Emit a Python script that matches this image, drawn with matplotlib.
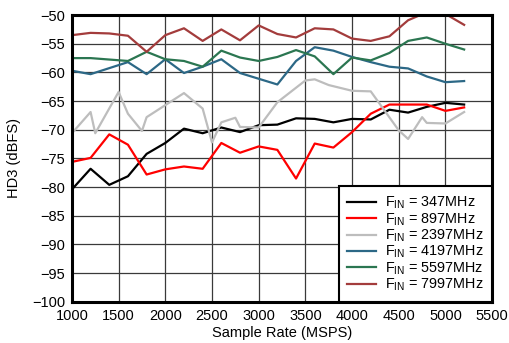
import numpy as np
import matplotlib
matplotlib.use('Agg')
import matplotlib.pyplot as plt

plt.rcParams['font.family'] = ['Liberation Sans', 'DejaVu Sans']
plt.rcParams['mathtext.fontset'] = 'custom'
plt.rcParams['mathtext.rm'] = 'Liberation Sans'
plt.rcParams['mathtext.it'] = 'Liberation Sans'
plt.rcParams['font.size'] = 10.5

# sample rate (MSPS) and HD3 (dBFS)
rate_347 = [1000, 1200, 1400, 1600, 1800, 2000, 2200, 2400, 2600, 2800, 3000,
            3200, 3400, 3600, 3800, 4000, 4200, 4400, 4600, 4800, 5000, 5200]
hd3_347 = [-80.4, -76.8, -79.6, -78.1, -74.2, -72.3, -69.8, -70.6, -69.6, -70.4, -69.2,
           -69.1, -68.0, -68.1, -68.7, -68.1, -68.2, -66.5, -67.0, -66.0, -65.3, -65.6]

rate_897 = [1000, 1200, 1400, 1600, 1800, 2000, 2200, 2400, 2600, 2800, 3000,
            3200, 3400, 3600, 3800, 4000, 4200, 4400, 4600, 4800, 5000, 5200]
hd3_897 = [-75.6, -74.9, -70.8, -72.6, -77.8, -76.9, -76.4, -76.8, -72.3, -74.0, -72.9,
           -73.5, -78.5, -72.4, -73.1, -70.4, -67.2, -65.6, -65.6, -65.6, -66.7, -66.1]

rate_2397 = [1000, 1200, 1250, 1500, 1600, 1750, 1800, 2200, 2400, 2500, 2600, 2750,
             2800, 3000, 3200, 3500, 3600, 3750, 4000, 4200, 4500, 4600, 4750, 4800,
             5000, 5200]
hd3_2397 = [-70.6, -66.9, -70.6, -63.4, -67.2, -70.2, -67.8, -63.6, -66.3, -72.2, -68.7, -67.9,
            -69.5, -69.6, -65.2, -61.4, -61.2, -62.2, -63.2, -63.3, -70.1, -71.6, -67.8, -68.8,
            -68.9, -66.9]

rate_4197 = [1000, 1200, 1600, 1800, 2000, 2200, 2400, 2600, 2800, 3200,
             3400, 3600, 3800, 4000, 4200, 4400, 4600, 4800, 5000, 5200]
hd3_4197 = [-59.7, -60.3, -58.2, -60.3, -57.7, -60.1, -59.0, -57.7, -60.1, -62.1,
            -58.0, -55.6, -56.2, -57.3, -58.2, -59.0, -59.3, -60.7, -61.7, -61.5]

rate_5597 = [1000, 1200, 1600, 1800, 2000, 2200, 2400, 2600, 2800, 3000, 3200,
             3400, 3600, 3800, 4000, 4200, 4400, 4600, 4800, 5000, 5200]
hd3_5597 = [-57.5, -57.5, -58.0, -56.4, -57.7, -58.0, -59.0, -56.2, -57.4, -58.0, -57.3,
            -56.1, -57.2, -60.3, -57.4, -57.9, -56.6, -54.5, -53.9, -55.0, -56.0]

rate_7997 = [1000, 1200, 1400, 1600, 1800, 2000, 2200, 2400, 2600, 2800, 3000,
             3200, 3400, 3600, 3800, 4000, 4200, 4400, 4600, 4800, 5000, 5200]
hd3_7997 = [-53.5, -53.1, -53.2, -53.6, -56.4, -53.5, -52.3, -54.5, -52.5, -54.4, -51.8,
            -53.3, -53.9, -52.3, -52.5, -54.1, -54.5, -53.7, -50.9, -49.5, -49.8, -51.7]

labels = [r'F$_{\mathrm{IN}}$ = 347MHz', r'F$_{\mathrm{IN}}$ = 897MHz',
          r'F$_{\mathrm{IN}}$ = 2397MHz', r'F$_{\mathrm{IN}}$ = 4197MHz',
          r'F$_{\mathrm{IN}}$ = 5597MHz', r'F$_{\mathrm{IN}}$ = 7997MHz']
colors = ['#000000', '#ff0000', '#bdbdbd', '#2c6886', '#2b7651', '#a33c3c']

series = [(rate_347, hd3_347), (rate_897, hd3_897), (rate_2397, hd3_2397),
          (rate_4197, hd3_4197), (rate_5597, hd3_5597), (rate_7997, hd3_7997)]

fig = plt.figure(figsize=(5.10, 3.43), dpi=100)
ax = fig.add_axes([0.141, 0.12, 0.824, 0.836])

for (x, y), c, lab in zip(series, colors, labels):
    ax.plot(x, y, color=c, lw=1.6, label=lab, zorder=3)

ax.set_xlim(1000, 5500)
ax.set_ylim(-100, -50)
ax.set_xticks(np.arange(1000, 5501, 500))
ax.set_yticks(np.arange(-100, -49, 5))
ax.grid(True, color='#3a3a3a', lw=0.9)
ax.tick_params(length=0, pad=5, labelsize=10.5)
for s in ax.spines.values():
    s.set_linewidth(2.2)
    s.set_color('black')
    s.set_zorder(5)

ax.set_xlabel('Sample Rate (MSPS)', labelpad=2)
ax.set_ylabel('HD3 (dBFS)', labelpad=8)

leg = ax.legend(loc='lower right', bbox_to_anchor=(1.0, 0.0), borderaxespad=0,
                fancybox=False, framealpha=1, edgecolor='black', fontsize=10.4,
                handlelength=2.0, labelspacing=0.0, borderpad=0.6, handletextpad=0.6)
leg.get_frame().set_linewidth(1.5)
leg.set_zorder(6)

fig.savefig('out.png', dpi=100)
